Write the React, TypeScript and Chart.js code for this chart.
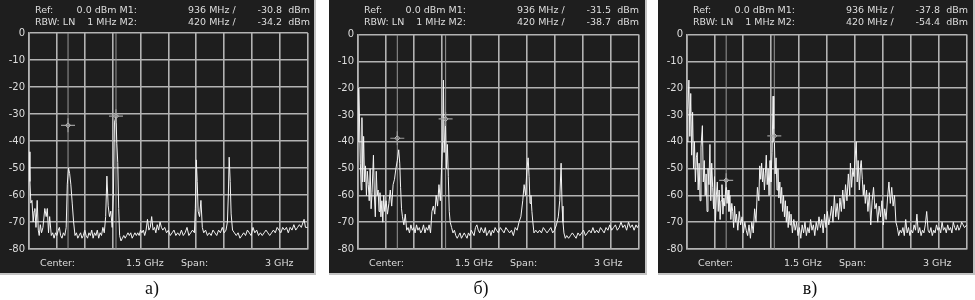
import React, { useEffect, useRef } from "react";
import { Chart, registerables } from "chart.js";
Chart.register(...registerables);

// ---------- data (MHz / dBm) ----------
const freqA = [0,10,20,32,45,55,63,75,88,100,110,122,135,150,170,185,197,210,222,240,255,270,285,300,315,327,340,355,370,385,400,412,425,437,450,465,480,495,510,525,540,555,570,585,600,615,630,645,660,675,690,705,720,735,750,765,780,795,810,825,838,852,866,880,895,908,920,936,945,955,965,975,990,1005,1020,1035,1050,1065,1080,1095,1110,1125,1140,1155,1170,1185,1200,1215,1230,1245,1260,1275,1290,1305,1320,1335,1350,1365,1380,1395,1410,1425,1440,1460,1480,1500,1520,1540,1560,1580,1600,1620,1640,1660,1680,1700,1720,1740,1760,1780,1790,1800,1810,1820,1835,1850,1865,1880,1900,1920,1940,1960,1980,2000,2020,2040,2060,2080,2100,2120,2135,2145,2154,2165,2175,2190,2210,2230,2250,2270,2290,2310,2330,2350,2370,2390,2410,2430,2450,2470,2490,2510,2530,2550,2570,2590,2610,2630,2650,2670,2690,2710,2730,2750,2770,2790,2810,2830,2850,2870,2890,2910,2930,2950,2960,2975,3000];
const levelA = [-44,-55,-63,-62,-70,-66,-65,-72,-62,-73,-75,-71,-74,-72,-65,-68,-65,-74,-68,-75,-74,-76,-74,-75,-73,-72,-75,-76,-74,-75,-72,-56,-50,-52,-56,-63,-70,-75,-74,-76,-75,-74,-76,-75,-73,-75,-76,-74,-75,-73,-76,-74,-75,-73,-76,-74,-75,-72,-74,-68,-53,-64,-68,-66,-72,-60,-33,-30.8,-41,-48,-65,-75,-77,-76,-75,-76,-75,-74,-75,-74,-76,-75,-74,-75,-74,-75,-73,-74,-73,-75,-73,-69,-73,-72,-68,-73,-72,-74,-71,-73,-70,-72,-73,-72,-74,-73,-75,-74,-73,-75,-74,-75,-73,-75,-74,-72,-75,-74,-73,-74,-65,-47,-55,-66,-68,-62,-72,-74,-73,-75,-74,-75,-73,-74,-75,-73,-74,-72,-74,-73,-70,-60,-46,-55,-67,-73,-74,-75,-74,-76,-75,-74,-75,-73,-74,-75,-72,-74,-73,-75,-74,-75,-74,-73,-74,-75,-74,-73,-74,-72,-73,-74,-72,-73,-72,-74,-72,-73,-71,-73,-72,-71,-72,-70,-69,-72,-72];

const freqB = [0,8,15,25,35,42,50,60,70,80,90,100,110,120,130,140,150,165,175,185,195,205,215,225,235,245,255,265,275,285,300,315,330,345,360,375,390,405,420,435,446,455,465,475,490,505,520,535,550,565,580,595,610,625,640,655,670,685,700,715,730,745,760,775,790,805,820,835,850,865,880,895,905,913,920,935,945,955,965,975,985,1000,1015,1030,1045,1060,1075,1090,1105,1120,1135,1150,1165,1180,1195,1210,1225,1240,1255,1270,1285,1300,1315,1330,1345,1360,1375,1390,1405,1420,1435,1450,1465,1480,1500,1520,1540,1560,1580,1600,1620,1640,1660,1680,1700,1720,1740,1760,1775,1790,1805,1818,1828,1838,1848,1858,1868,1880,1900,1920,1940,1960,1980,2000,2020,2040,2060,2080,2100,2120,2140,2155,2170,2180,2190,2200,2215,2230,2250,2270,2290,2310,2330,2350,2370,2390,2410,2430,2450,2470,2490,2510,2530,2550,2570,2590,2610,2630,2650,2670,2690,2710,2730,2750,2770,2790,2810,2830,2850,2870,2890,2910,2930,2950,2970,2985,3000];
const levelB = [-40,-20,-30,-48,-58,-31,-55,-38,-55,-49,-60,-51,-56,-62,-50,-65,-59,-45,-60,-68,-51,-60,-58,-66,-59,-68,-62,-70,-60,-66,-62,-67,-63,-58,-64,-56,-54,-50,-47,-43,-48,-57,-65,-68,-71,-67,-73,-72,-74,-71,-73,-72,-74,-71,-73,-72,-74,-73,-71,-74,-72,-73,-71,-74,-66,-64,-67,-60,-64,-56,-62,-48,-40,-17,-44,-32,-50,-41,-53,-66,-70,-72,-74,-73,-75,-76,-75,-74,-76,-75,-74,-75,-76,-74,-75,-73,-74,-75,-72,-71,-73,-74,-72,-73,-74,-72,-75,-74,-73,-75,-73,-74,-72,-73,-74,-72,-73,-74,-72,-73,-74,-73,-75,-72,-73,-70,-68,-62,-56,-60,-50,-46,-53,-63,-60,-66,-70,-74,-73,-74,-73,-74,-72,-73,-74,-73,-72,-74,-73,-71,-68,-62,-48,-64,-70,-74,-76,-75,-76,-75,-74,-75,-76,-74,-75,-74,-73,-75,-74,-73,-74,-72,-74,-73,-74,-72,-73,-74,-72,-73,-71,-73,-72,-71,-73,-72,-70,-72,-71,-73,-70,-72,-71,-73,-71,-72,-71];

const freqC = [0,10,20,30,40,50,60,70,80,90,100,110,120,130,140,150,165,175,185,195,205,215,225,235,246,255,265,275,285,295,305,315,325,335,345,355,365,375,385,395,405,420,430,440,450,460,470,480,490,500,510,520,530,545,560,575,590,605,620,635,650,665,680,695,710,725,740,755,770,780,790,800,810,820,830,840,850,860,870,880,890,900,912,923,930,936,945,955,965,975,985,995,1005,1015,1025,1035,1045,1055,1065,1075,1085,1095,1105,1115,1130,1145,1160,1175,1190,1205,1220,1235,1250,1265,1280,1295,1310,1325,1340,1355,1370,1385,1400,1415,1430,1445,1460,1475,1490,1505,1520,1535,1550,1565,1580,1595,1610,1625,1640,1655,1670,1685,1700,1715,1730,1745,1752,1765,1778,1790,1800,1815,1825,1835,1848,1860,1868,1880,1890,1900,1912,1925,1940,1955,1970,1985,2000,2015,2030,2045,2060,2075,2090,2105,2120,2135,2150,2165,2180,2195,2210,2225,2240,2255,2270,2285,2300,2315,2330,2345,2360,2375,2390,2405,2420,2435,2450,2465,2480,2495,2510,2525,2540,2555,2570,2585,2600,2615,2630,2645,2660,2675,2690,2705,2720,2735,2750,2765,2780,2795,2810,2825,2840,2855,2870,2885,2900,2915,2930,2945,2960,2975,3000];
const levelC = [-40,-28,-17,-38,-22,-45,-29,-50,-40,-55,-46,-44,-58,-48,-62,-42,-34,-55,-47,-60,-52,-66,-50,-56,-41,-62,-48,-57,-65,-53,-70,-60,-55,-66,-58,-69,-62,-56,-67,-61,-64,-54,-63,-58,-66,-60,-69,-63,-66,-72,-64,-70,-67,-73,-66,-71,-68,-74,-70,-73,-75,-71,-76,-70,-74,-65,-70,-57,-62,-49,-54,-48,-55,-50,-58,-52,-45,-56,-50,-60,-47,-55,-44,-23,-40,-38,-52,-46,-58,-50,-61,-55,-63,-57,-66,-60,-68,-62,-70,-64,-72,-66,-71,-67,-74,-69,-73,-70,-75,-72,-76,-71,-74,-70,-75,-72,-74,-69,-73,-71,-75,-70,-73,-68,-72,-69,-74,-67,-72,-66,-71,-68,-64,-70,-60,-68,-63,-69,-61,-66,-58,-65,-56,-62,-52,-60,-48,-57,-50,-53,-47,-40,-55,-47,-58,-49,-47,-54,-60,-56,-63,-58,-66,-59,-71,-62,-57,-65,-63,-70,-64,-68,-62,-71,-65,-69,-61,-55,-63,-57,-64,-60,-70,-72,-75,-73,-74,-72,-75,-69,-74,-72,-75,-73,-74,-71,-73,-67,-74,-72,-75,-73,-74,-71,-66,-73,-74,-72,-75,-73,-74,-71,-73,-72,-74,-70,-73,-72,-74,-71,-73,-72,-74,-70,-72,-73,-71,-73,-72,-70,-71,-72,-71];

const markerFreqs = [936, 420]; // M1, M2
const markerLevelsA = [-30.8, -34.2];
const markerLevelsB = [-31.5, -38.7];
const markerLevelsC = [-37.8, -54.4];
const captions = ["а)", "б)", "в)"];
const refText = "0.0";
const rbwText = "1";
const centerText = "1.5 GHz";
const spanText = "3 GHz";
const yMin = -80;
const yMax = 0;
const freqSpan = 3000;

const TXT = "#dedede";
const BG = "#1e1e1e";
const GRID = "#b3b3b3";
const FONT = "'DejaVu Sans', sans-serif";

type PanelProps = {
  freq: number[];
  level: number[];
  markers: number[];
  caption: string;
  left: number;
  width: number;
  top: number;
  right: number;
};

function Panel({ freq, level, markers, caption, left, width, top, right }: PanelProps) {
  const ref = useRef<HTMLCanvasElement | null>(null);
  const H = 275;
  useEffect(() => {
    if (!ref.current) return;
    const trace = freq.map((f, i) => ({ x: f, y: level[i] }));
    const mk = markers.map((lv, i) => ({ x: markerFreqs[i], y: lv }));
    const lineDs = markerFreqs.map((f) => ({
      data: [{ x: f, y: yMin }, { x: f, y: yMax }],
      borderColor: "#979797",
      borderWidth: 1,
      pointRadius: 0,
      showLine: true,
      order: 3,
    }));
    const chart = new Chart(ref.current, {
      type: "line",
      data: {
        datasets: [
          ...lineDs,
          {
            data: trace,
            borderColor: "#f4f4f4",
            borderWidth: 1,
            pointRadius: 0,
            tension: 0,
            order: 2,
          },
          {
            data: mk,
            showLine: false,
            pointStyle: "cross",
            pointRadius: 7,
            borderColor: "#9a9a9a",
            borderWidth: 1.2,
            order: 1,
          },
          {
            data: mk,
            showLine: false,
            pointStyle: "rectRot",
            pointRadius: 2.5,
            borderColor: "#b8b8b8",
            backgroundColor: "rgba(0,0,0,0)",
            borderWidth: 1,
            order: 0,
          },
        ] as any,
      },
      options: {
        animation: false,
        responsive: false,
        maintainAspectRatio: false,
        layout: { padding: { top, right, bottom: H - 249, left: 0 } },
        plugins: { legend: { display: false }, tooltip: { enabled: false } },
        scales: {
          x: {
            type: "linear",
            min: 0,
            max: freqSpan,
            ticks: { display: false, stepSize: 300 },
            grid: { color: GRID, lineWidth: 1.6, drawTicks: false },
            border: { color: GRID, width: 1.6 },
            afterFit: (a: any) => {
              a.height = 0;
            },
          },
          y: {
            min: yMin,
            max: yMax,
            ticks: {
              stepSize: 10,
              color: TXT,
              padding: 4,
              font: { family: FONT, size: 10 },
            },
            grid: { color: GRID, lineWidth: 1.6, drawTicks: false },
            border: { color: GRID, width: 1.6 },
            afterFit: (a: any) => {
              a.width = 29;
            },
          },
        },
      } as any,
    });
    return () => chart.destroy();
  }, []);

  const t = (txt: string, x: number, y: number, align: "left" | "right" = "left") => (
    <div
      style={{
        position: "absolute",
        top: y,
        ...(align === "left" ? { left: x } : { right: width - x }),
        color: TXT,
        fontFamily: FONT,
        fontSize: 9.5,
        lineHeight: "11px",
        whiteSpace: "pre",
      }}
    >
      {txt}
    </div>
  );

  return (
    <div
      style={{
        position: "absolute",
        left,
        top: 0,
        width,
        height: H,
        background: BG,
        boxShadow: "inset -2px -2px 0 #c4c4c4",
      }}
    >
      <canvas ref={ref} width={width} height={H} style={{ position: "absolute", left: 0, top: 0, width, height: H }} />
      {t("Ref:", 35, 4)}
      {t(`${refText} dBm M1:`, 137, 4, "right")}
      {t(`${markerFreqs[0]} MHz /`, 188, 4)}
      {t(`${markers[0].toFixed(1)}  dBm`, 310, 4, "right")}
      {t("RBW: LN", 35, 16)}
      {t(`${rbwText} MHz M2:`, 137, 16, "right")}
      {t(`${markerFreqs[1]} MHz /`, 188, 16)}
      {t(`${markers[1].toFixed(1)}  dBm`, 310, 16, "right")}
      {t("Center:", 40, 257)}
      {t(centerText, 126, 257)}
      {t("Span:", 181, 257)}
      {t(spanText, 265, 257)}
      <div
        style={{
          position: "absolute",
          top: 278,
          left: 152 - 30,
          width: 60,
          textAlign: "center",
          fontFamily: "'Liberation Serif', serif",
          fontSize: 18,
          lineHeight: "20px",
          color: "#111",
        }}
      >
        {caption}
      </div>
    </div>
  );
}

export default function App() {
  return (
    <div style={{ position: "absolute", left: 0, top: 0, width: 975, height: 300, background: "#fff", overflow: "hidden" }}>
      <Panel freq={freqA} level={levelA} markers={markerLevelsA} caption={captions[0]} left={0} width={316} top={33} right={3} />
      <Panel freq={freqB} level={levelB} markers={markerLevelsB} caption={captions[1]} left={329} width={318} top={34.5} right={4} />
      <Panel freq={freqC} level={levelC} markers={markerLevelsC} caption={captions[2]} left={658} width={317} top={34.5} right={3} />
    </div>
  );
}
